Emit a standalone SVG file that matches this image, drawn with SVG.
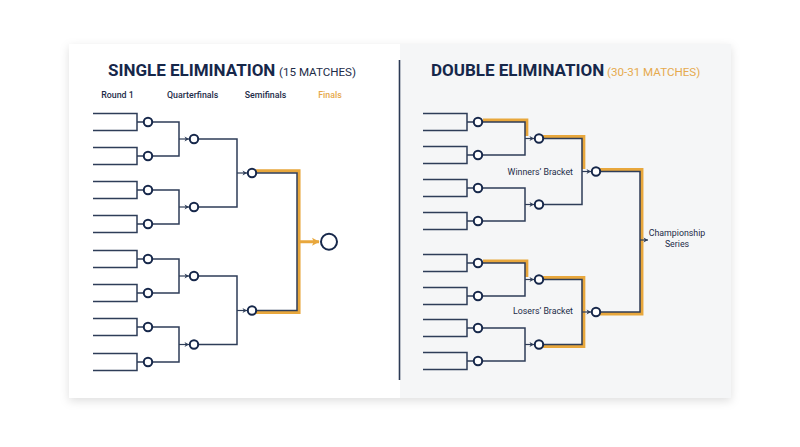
<svg xmlns="http://www.w3.org/2000/svg" width="800" height="447" viewBox="0 0 800 447">
<defs>
<filter id="sh" x="-10%" y="-10%" width="120%" height="130%">
<feDropShadow dx="0" dy="3" stdDeviation="5" flood-color="#000" flood-opacity="0.13"/>
</filter>
<marker id="ah" markerUnits="userSpaceOnUse" markerWidth="6" markerHeight="6" refX="5" refY="3" orient="auto">
<path d="M0.5,0.5 L5,3 L0.5,5.5 L1.8,3 z" fill="#2e3d58"/>
</marker>
<marker id="ahO" markerUnits="userSpaceOnUse" markerWidth="9" markerHeight="9" refX="7" refY="4.5" orient="auto">
<path d="M0,0.5 L7.5,4.5 L0,8.5 L1.8,4.5 z" fill="#e8a73c"/>
</marker>
</defs>
<style>
.ln{fill:none;stroke:#2e3d58;stroke-width:1.5}
.hl{fill:none;stroke:#e8a73c;stroke-width:3.5}
.c{fill:#fff;stroke:#16274a;stroke-width:2}
.ar{fill:none;stroke:#2e3d58;stroke-width:1.2;marker-end:url(#ah)}
.t{font-family:Roboto,"Liberation Sans",sans-serif;font-weight:700;font-size:17px;fill:#16274a}
.st{font-family:Roboto,"Liberation Sans",sans-serif;font-weight:400;font-size:11.6px}
.h{font-family:Roboto,"Liberation Sans",sans-serif;font-weight:500;font-size:8.8px;fill:#1d2c48;text-anchor:middle}
.lb{font-family:Roboto,"Liberation Sans",sans-serif;font-weight:400;font-size:8.8px;fill:#1d2c48}
</style>
<rect width="800" height="447" fill="#fff"/>
<g id="card">
<rect x="69" y="44" width="662" height="354" fill="#fff" filter="url(#sh)"/>
<rect x="400" y="44" width="331" height="354" fill="#f5f6f7"/>
<line x1="399.5" y1="60" x2="399.5" y2="380" stroke="#2b3a55" stroke-width="1.6"/>
</g>
<g id="titles">
<text class="t" x="108" y="76">SINGLE ELIMINATION</text>
<text class="st" x="279" y="76" fill="#1d2c48">(15 MATCHES)</text>
<text class="t" x="431" y="76">DOUBLE ELIMINATION</text>
<text class="st" x="607" y="76" fill="#e6aa4e">(30-31 MATCHES)</text>
<text class="h" x="117.5" y="98">Round 1</text>
<text class="h" x="192.7" y="98">Quarterfinals</text>
<text class="h" x="265.5" y="98">Semifinals</text>
<text class="h" x="330" y="98" style="fill:#e6a84a">Finals</text>
<text class="lb" x="573" y="174.5" text-anchor="end">Winners’ Bracket</text>
<text class="lb" x="573" y="314" text-anchor="end">Losers’ Bracket</text>
<text class="lb" x="677" y="236" text-anchor="middle">Championship</text>
<text class="lb" x="677" y="246.5" text-anchor="middle">Series</text>
</g>
<g id="connectors">
<path class="hl" d="M256,171 H298.8 V312.3 H256"/>
<line x1="297" y1="241.75" x2="319" y2="241.75" stroke="#e8a73c" stroke-width="3" marker-end="url(#ahO)"/>
<path class="hl" d="M483,120.3 H526.6 V136"/>
<path class="hl" d="M543,136.8 H583.6 V169"/>
<path class="hl" d="M600,169.8 H641.7 V313.7 H600"/>
<path class="hl" d="M483,261.3 H526.6 V277"/>
<path class="hl" d="M543,277.8 H583.6 V346.2 H543"/>
<path class="ln" d="M93,113.5 H137 V130.5 H93 M137,122 H143.8"/>
<path class="ln" d="M93,147.5 H137 V164.5 H93 M137,156 H143.8"/>
<path class="ln" d="M93,181.5 H137 V198.5 H93 M137,190 H143.8"/>
<path class="ln" d="M93,215.5 H137 V232.5 H93 M137,224 H143.8"/>
<path class="ln" d="M93,250.5 H137 V267.5 H93 M137,259 H143.8"/>
<path class="ln" d="M93,284.5 H137 V301.5 H93 M137,293 H143.8"/>
<path class="ln" d="M93,318.5 H137 V335.5 H93 M137,327 H143.8"/>
<path class="ln" d="M93,353.5 H137 V370.5 H93 M137,362 H143.8"/>
<path class="ln" d="M152.2,122 H179 V156 H152.2"/>
<path class="ln" d="M152.2,190 H179 V224 H152.2"/>
<path class="ln" d="M152.2,259 H179 V293 H152.2"/>
<path class="ln" d="M152.2,327 H179 V362 H152.2"/>
<line class="ar" x1="179" y1="139" x2="189" y2="139"/>
<line class="ar" x1="179" y1="207" x2="189" y2="207"/>
<line class="ar" x1="179" y1="276" x2="189" y2="276"/>
<line class="ar" x1="179" y1="344.5" x2="189" y2="344.5"/>
<path class="ln" d="M198.2,139 H237 V207 H198.2"/>
<path class="ln" d="M198.2,276 H237 V344.5 H198.2"/>
<line class="ar" x1="237" y1="173" x2="247" y2="173"/>
<line class="ar" x1="237" y1="310.5" x2="247" y2="310.5"/>
<path class="ln" d="M256.2,173 H297 V310.5 H256.2"/>
<path class="ln" d="M423,113.5 H467 V130.5 H423 M467,122 H473.8"/>
<path class="ln" d="M423,146.5 H467 V163.5 H423 M467,155 H473.8"/>
<path class="ln" d="M423,179.5 H467 V196.5 H423 M467,188 H473.8"/>
<path class="ln" d="M423,212.5 H467 V229.5 H423 M467,221 H473.8"/>
<path class="ln" d="M423,254.5 H467 V271.5 H423 M467,263 H473.8"/>
<path class="ln" d="M423,287.5 H467 V304.5 H423 M467,296 H473.8"/>
<path class="ln" d="M423,319.5 H467 V336.5 H423 M467,328 H473.8"/>
<path class="ln" d="M423,352.5 H467 V369.5 H423 M467,361 H473.8"/>
<path class="ln" d="M482.2,122 H525 V155 H482.2"/>
<path class="ln" d="M482.2,188 H525 V221 H482.2"/>
<path class="ln" d="M482.2,263 H525 V296 H482.2"/>
<path class="ln" d="M482.2,328 H525 V361 H482.2"/>
<line class="ar" x1="525" y1="138.5" x2="534" y2="138.5"/>
<line class="ar" x1="525" y1="204.5" x2="534" y2="204.5"/>
<line class="ar" x1="525" y1="279.5" x2="534" y2="279.5"/>
<line class="ar" x1="525" y1="344.5" x2="534" y2="344.5"/>
<path class="ln" d="M543.2,138.5 H582 V204.5 H543.2"/>
<path class="ln" d="M543.2,279.5 H582 V344.5 H543.2"/>
<line class="ar" x1="582" y1="171.5" x2="591" y2="171.5"/>
<line class="ar" x1="582" y1="312" x2="591" y2="312"/>
<path class="ln" d="M600.2,171.5 H640 V312 H600.2"/>
<line class="ar" x1="640" y1="240" x2="648" y2="240"/>
</g>
<g id="left-r1"><circle class="c" cx="148" cy="122" r="4.2"/><circle class="c" cx="148" cy="156" r="4.2"/><circle class="c" cx="148" cy="190" r="4.2"/><circle class="c" cx="148" cy="224" r="4.2"/><circle class="c" cx="148" cy="259" r="4.2"/><circle class="c" cx="148" cy="293" r="4.2"/><circle class="c" cx="148" cy="327" r="4.2"/><circle class="c" cx="148" cy="362" r="4.2"/></g>
<g id="left-qf"><circle class="c" cx="194" cy="139" r="4.2"/><circle class="c" cx="194" cy="207" r="4.2"/><circle class="c" cx="194" cy="276" r="4.2"/><circle class="c" cx="194" cy="344.5" r="4.2"/></g>
<g id="left-sf"><circle class="c" cx="252" cy="173" r="4.2"/><circle class="c" cx="252" cy="310.5" r="4.2"/></g>
<g id="left-final"><circle class="c" cx="329" cy="241.75" r="8" stroke-width="2.2"/></g>
<g id="right-r1"><circle class="c" cx="478" cy="122" r="4.2"/><circle class="c" cx="478" cy="155" r="4.2"/><circle class="c" cx="478" cy="188" r="4.2"/><circle class="c" cx="478" cy="221" r="4.2"/><circle class="c" cx="478" cy="263" r="4.2"/><circle class="c" cx="478" cy="296" r="4.2"/><circle class="c" cx="478" cy="328" r="4.2"/><circle class="c" cx="478" cy="361" r="4.2"/></g>
<g id="right-qf"><circle class="c" cx="539" cy="138.5" r="4.2"/><circle class="c" cx="539" cy="204.5" r="4.2"/><circle class="c" cx="539" cy="279.5" r="4.2"/><circle class="c" cx="539" cy="344.5" r="4.2"/></g>
<g id="right-sf"><circle class="c" cx="596" cy="171.5" r="4.2"/><circle class="c" cx="596" cy="312" r="4.2"/></g>
</svg>
